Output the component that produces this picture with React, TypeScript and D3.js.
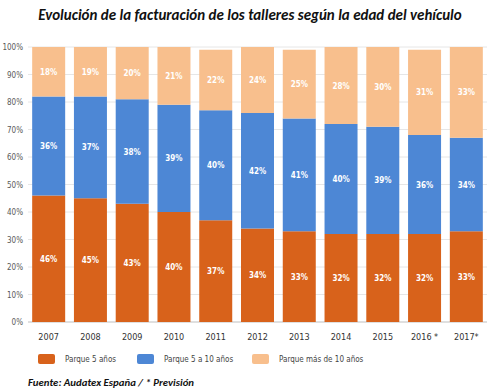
import React from 'react';
import {scaleBand, scaleLinear, stack} from 'd3';

const years = ['2007', '2008', '2009', '2010', '2011', '2012', '2013', '2014', '2015', '2016 *', '2017*'];
const parque5 = [46, 45, 43, 40, 37, 34, 33, 32, 32, 32, 33];
const parque5a10 = [36, 37, 38, 39, 40, 42, 41, 40, 39, 36, 34];
const parqueMas10 = [18, 19, 20, 21, 22, 24, 25, 28, 30, 31, 33];
const seriesNames = ['Parque 5 años', 'Parque 5 a 10 años', 'Parque más de 10 años'];
const yTicks = [0, 10, 20, 30, 40, 50, 60, 70, 80, 90, 100];

const colors = ['#D8621B', '#4D87D5', '#F8BF8D'];
const font = '"DejaVu Sans Condensed", "Liberation Sans Narrow", sans-serif';
const titleFont = "Calibri, 'Open Sans', sans-serif";

const W = 494, H = 392;
const left = 28, right = 487, top = 47, bottom = 322;

const App = (): JSX.Element => {
    const x = scaleBand().domain(years).range([left, right]).paddingInner(0.21).paddingOuter(0.1);
    const y = scaleLinear().domain([0, 100]).range([bottom, top]).clamp(true);

    const rows = years.map((yr, i) => ({yr, a: parque5[i], b: parque5a10[i], c: parqueMas10[i]}));
    const layers = stack<any>().keys(['a', 'b', 'c'])(rows);

    return (
        <svg width={W} height={H} style={{position: 'absolute', left: 0, top: 0, background: '#fff'}}>
            <text x={250} y={20} textAnchor="middle" fontFamily={titleFont}
                  fontWeight="bold" fontStyle="italic" fontSize={15} fill="#111">
                Evolución de la facturación de los talleres según la edad del vehículo
            </text>

            {yTicks.map(t => (
                <g key={t}>
                    <line x1={left} x2={right} y1={y(t)} y2={y(t)} stroke={t === 0 ? '#bfbfbf' : '#e6e6e6'} strokeWidth={1}/>
                    <text x={23} y={y(t) + 3} textAnchor="end" fontFamily={font} fontSize={8} fill="#595959">{t}%</text>
                </g>
            ))}

            {layers.map((layer, li) => (
                <g key={li}>
                    {layer.map((d: any, i: number) => {
                        const y0 = y(d[0]), y1 = y(d[1]);
                        const v = d[1] - d[0];
                        return (
                            <g key={i}>
                                <rect x={x(years[i])} y={y1} width={x.bandwidth()} height={y0 - y1} fill={colors[li]}/>
                                <text x={(x(years[i]) as number) + x.bandwidth() / 2} y={(y0 + y1) / 2 + 3}
                                      textAnchor="middle" fontFamily={font} fontWeight="bold" fontSize={8}
                                      fill="#fff">{v}%</text>
                            </g>
                        );
                    })}
                </g>
            ))}

            {years.map(yr => (
                <text key={yr} x={(x(yr) as number) + x.bandwidth() / 2} y={340} textAnchor="middle"
                      fontFamily={font} fontSize={9} fill="#333">{yr}</text>
            ))}

            {seriesNames.map((n, i) => {
                const lx = [38, 137, 252][i];
                return (
                    <g key={n}>
                        <rect x={lx} y={354} width={17} height={10} rx={2} fill={colors[i]}/>
                        <text x={lx + 27} y={362} fontFamily={font} fontSize={8} fill="#444">{n}</text>
                    </g>
                );
            })}

            <text x={28} y={386} fontFamily={titleFont} fontWeight="bold" fontStyle="italic"
                  fontSize={10.8} fill="#111">Fuente: Audatex España / * Previsión</text>
        </svg>
    );
};

export default App;
